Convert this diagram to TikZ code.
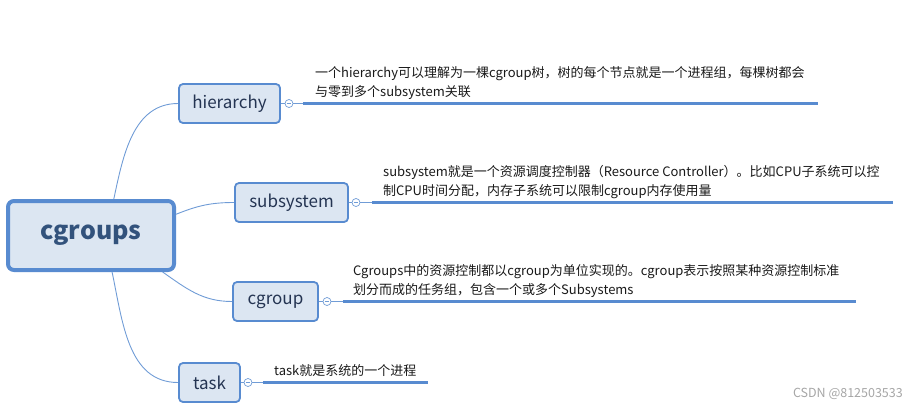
\documentclass[tikz,border=0pt]{standalone}
\usepackage{fontspec}
\setmainfont{Noto Sans CJK SC}
\definecolor{mapaBorde}{RGB}{88,139,208}
\definecolor{mapaFondo}{RGB}{220,230,242}
\definecolor{mapaTexto}{RGB}{36,52,82}
\definecolor{mapaRaiz}{RGB}{50,82,124}
\definecolor{mapaRama}{RGB}{112,156,214}
\usepackage{tikz}
\usetikzlibrary{calc}

\begin{document}
\begin{tikzpicture}[
    x=1pt, y=-1pt,
    root/.style={
        rectangle,
        rounded corners=6pt,
        draw=mapaBorde,
        line width=4pt,
        fill=mapaFondo,
        text=mapaRaiz,
        font=\fontsize{25}{30}\selectfont\bfseries,
        minimum width=166,
        minimum height=69
    },
    topic/.style={
        rectangle,
        rounded corners=4pt,
        draw=mapaBorde,
        line width=1.8pt,
        fill=mapaFondo,
        text=mapaTexto,
        font=\fontsize{17}{20}\selectfont,
        minimum height=39
    },
    fold/.style={
        circle,
        draw=mapaRama,
        fill=white,
        line width=0.7pt,
        inner sep=0pt,
        minimum size=8,
        path picture={
            \draw[mapaRama, line width=0.7pt]
                ([xshift=-2.2pt]path picture bounding box.center) --
                ([xshift=2.2pt]path picture bounding box.center);
        }
    },
    desc/.style={
        inner sep=0pt,
        align=left,
        anchor=west,
        text=black!90,
        font=\fontsize{13}{19}\selectfont
    },
    branch/.style={
        mapaRama,
        line width=0.9pt
    },
    stem/.style={
        mapaRama,
        line width=0.9pt
    },
    bar/.style={
        mapaBorde,
        line width=3pt
    }
]
\useasboundingbox (0,0) rectangle (918,410);

% NODO CENTRAL
\node[root] (cgroups) at (91,235.5) {cgroups};

% RAMAS
\node[topic, minimum width=101] (hierarchy) at (229.5,103.5) {hierarchy};
\node[topic, minimum width=113] (subsystem) at (291.5,202.5) {subsystem};
\node[topic, minimum width=85] (cgroup) at (275.5,301.5) {cgroup};
\node[topic, minimum width=61] (task) at (209.5,382.5) {task};

\draw[branch] (cgroups.58) to[out=78, in=180] (hierarchy.west);
\draw[branch] (cgroups.14) to[out=22, in=180] (subsystem.west);
\draw[branch] (cgroups.-27) to[out=-35, in=180] (cgroup.west);
\draw[branch] (cgroups.-60) to[out=-78, in=180] (task.west);

% PLEGADORES
\node[fold] (hierarchy-fold) at (289,103.5) {};
\node[fold] (subsystem-fold) at (356,202.5) {};
\node[fold] (cgroup-fold) at (327,301.5) {};
\node[fold] (task-fold) at (248,382.5) {};

\coordinate (hierarchy-a) at (303,103.5);
\coordinate (hierarchy-b) at (818,103.5);
\coordinate (subsystem-a) at (372,202.5);
\coordinate (subsystem-b) at (893,202.5);
\coordinate (cgroup-a) at (343,301.5);
\coordinate (cgroup-b) at (856,301.5);
\coordinate (task-a) at (263,382.5);
\coordinate (task-b) at (428,382.5);

\foreach \n in {hierarchy,subsystem,cgroup,task}{
    \draw[stem] (\n.east) -- (\n-fold.west);
    \draw[stem] (\n-fold.east) -- (\n-a);
    \draw[bar] (\n-a) -- (\n-b);
}

% DESCRIPCIONES
\node[desc] (hierarchy-text) at (315,83)
{
一个hierarchy可以理解为一棵cgroup树，树的每个节点就是一个进程组，每棵树都会\\
与零到多个subsystem关联
};

\node[desc] (subsystem-text) at (383,182)
{
subsystem就是一个资源调度控制器（Resource Controller）。比如CPU子系统可以控\\
制CPU时间分配，内存子系统可以限制cgroup内存使用量
};

\node[desc] (cgroup-text) at (353,281)
{
Cgroups中的资源控制都以cgroup为单位实现的。cgroup表示按照某种资源控制标准\\
划分而成的任务组，包含一个或多个Subsystems
};

\node[desc] (task-text) at (274,371)
{
task就是系统的一个进程
};

% FIRMA
\node[text=black!35, font=\fontsize{12.5}{15}\selectfont, anchor=east, inner sep=0pt]
    (firma) at (903,394) {CSDN @812503533};

\end{tikzpicture}
\end{document}
